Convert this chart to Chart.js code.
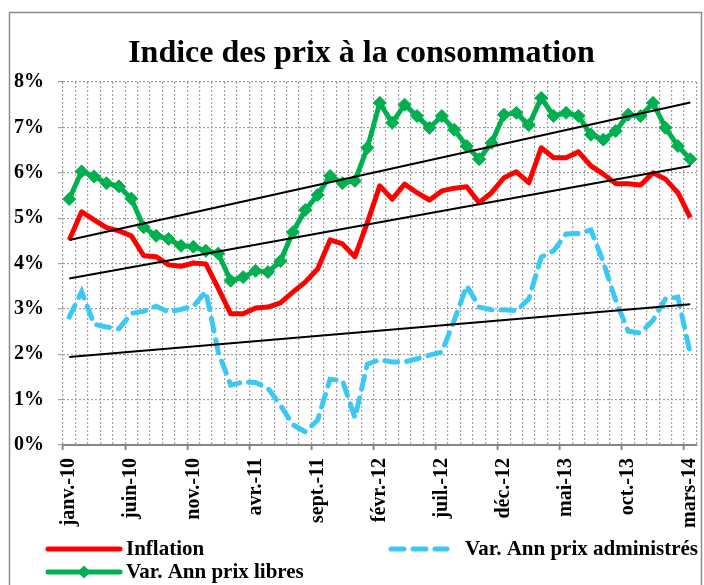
<!DOCTYPE html>
<html>
<head>
<meta charset="utf-8">
<script src="https://cdn.jsdelivr.net/npm/chart.js@4"></script>
<style>
  html, body { margin: 0; padding: 0; background: #fff; }
  canvas { display: block; }
</style>
</head>
<body>
<canvas id="chartCanvas" width="704" height="585"></canvas>
<script>
"use strict";

// janv.-10 .. mars-14, one value per month
const monthNames = ['janv.', 'févr.', 'mars', 'avr.', 'mai', 'juin', 'juil.', 'août', 'sept.', 'oct.', 'nov.', 'déc.'];
const years = ['10', '11', '12', '13', '14'];
const monthCount = 51;
const labelStep = 5;

const chartTitle = 'Indice des prix à la consommation';

const inflation = [
    4.52, 5.14, 4.96, 4.79, 4.72, 4.61, 4.17, 4.15, 3.97, 3.94, 4.01, 3.99,
    3.45, 2.89, 2.89, 3.02, 3.04, 3.13, 3.37, 3.59, 3.88, 4.52, 4.43, 4.15,
    4.90, 5.71, 5.42, 5.75, 5.56, 5.40, 5.60, 5.66, 5.69, 5.34, 5.56, 5.89,
    6.02, 5.78, 6.55, 6.33, 6.33, 6.46, 6.15, 5.97, 5.76, 5.76, 5.73, 6.00,
    5.86, 5.56, 5.01
];
const prixAdministres = [
    2.82, 3.38, 2.66, 2.60, 2.56, 2.90, 2.95, 3.06, 2.93, 2.99, 3.06, 3.38,
    2.05, 1.32, 1.39, 1.38, 1.25, 0.88, 0.45, 0.29, 0.55, 1.45, 1.42, 0.60,
    1.78, 1.88, 1.83, 1.83, 1.90, 1.98, 2.05, 2.75, 3.51, 3.04, 2.98, 2.98,
    2.96, 3.22, 4.14, 4.28, 4.65, 4.66, 4.74, 4.03, 3.18, 2.51, 2.47, 2.75,
    3.22, 3.26, 2.01
];
const prixLibres = [
    5.42, 6.03, 5.92, 5.77, 5.70, 5.43, 4.80, 4.61, 4.54, 4.39, 4.37, 4.28,
    4.22, 3.62, 3.70, 3.84, 3.81, 4.05, 4.69, 5.18, 5.51, 5.93, 5.77, 5.82,
    6.55, 7.54, 7.10, 7.50, 7.25, 6.99, 7.25, 6.95, 6.59, 6.30, 6.66, 7.28,
    7.32, 7.05, 7.65, 7.25, 7.32, 7.25, 6.84, 6.73, 6.92, 7.28, 7.25, 7.54,
    6.99, 6.59, 6.30
];

// linear trend lines: value at first and last month
const trendInflation = [3.67, 6.15];
const trendAdministres = [1.94, 3.10];
const trendLibres = [4.52, 7.55];

const yMin = 0;
const yMax = 8;
const yStep = 1;

const labels = [];
for (let i = 0; i < monthCount; i++) {
    labels.push(monthNames[i % 12] + '-' + years[Math.floor(i / 12)]);
}

function trendData(ends) {
    return labels.map((_, i) => i === 0 ? ends[0] : (i === labels.length - 1 ? ends[1] : null));
}

const serif = "'Liberation Serif', 'Times New Roman', serif";
Chart.defaults.font.family = serif;
Chart.defaults.font.weight = 'bold';
Chart.defaults.font.size = 20;
Chart.defaults.color = '#000';

const trendStyle = {
    borderColor: '#000',
    borderWidth: 2,
    pointRadius: 0,
    spanGaps: true,
    order: 0
};

// frame, title and a two-column legend placed like the original
const frameAndLegend = {
    id: 'frameAndLegend',
    beforeDraw(chart) {
        const c = chart.ctx;
        c.save();
        c.strokeStyle = '#8a8a8a';
        c.lineWidth = 1.5;
        c.strokeRect(9.5, 12.5, 692, 600);
        c.fillStyle = '#000';
        c.font = 'bold 32px ' + serif;
        c.textAlign = 'center';
        c.textBaseline = 'alphabetic';
        c.fillText(chartTitle, 361.5, 62);
        c.restore();
    },
    afterDraw(chart) {
        const c = chart.ctx;
        const sets = chart.data.datasets;
        const items = [
            { ds: sets[0], x0: 48, x1: 120, tx: 126, y: 549 },
            { ds: sets[1], x0: 391, x1: 447, tx: 465, y: 549 },
            { ds: sets[2], x0: 48, x1: 120, tx: 126, y: 572 }
        ];
        c.save();
        items.forEach((it) => {
            c.beginPath();
            c.strokeStyle = it.ds.borderColor;
            c.lineWidth = 5;
            c.lineCap = 'round';
            c.setLineDash(it.ds.borderDash || []);
            c.moveTo(it.x0, it.y);
            c.lineTo(it.x1, it.y);
            c.stroke();
            c.setLineDash([]);
            if (it.ds.pointStyle === 'rectRot') {
                const mx = (it.x0 + it.x1) / 2, r = 6.5;
                c.beginPath();
                c.fillStyle = it.ds.borderColor;
                c.moveTo(mx - r, it.y);
                c.lineTo(mx, it.y - r);
                c.lineTo(mx + r, it.y);
                c.lineTo(mx, it.y + r);
                c.closePath();
                c.fill();
            }
            c.fillStyle = '#000';
            c.font = 'bold 21px ' + serif;
            c.textBaseline = 'middle';
            c.textAlign = 'left';
            c.fillText(it.ds.label, it.tx, it.y + 1);
        });
        c.restore();
    }
};

const ctx = document.getElementById('chartCanvas').getContext('2d');
const plot = new Chart(ctx, {
    type: 'line',
    data: {
        labels: labels,
        datasets: [
            {
                label: 'Inflation',
                data: inflation,
                borderColor: '#ff0000',
                borderWidth: 5,
                borderJoinStyle: 'round',
                pointRadius: 0,
                order: 2
            },
            {
                label: 'Var. Ann prix administrés',
                data: prixAdministres,
                borderColor: '#3cc8f4',
                borderWidth: 5,
                borderDash: [13, 9],
                borderCapStyle: 'round',
                pointRadius: 0,
                order: 3
            },
            {
                label: 'Var. Ann prix libres',
                data: prixLibres,
                borderColor: '#00b050',
                backgroundColor: '#00b050',
                borderWidth: 5,
                pointStyle: 'rectRot',
                pointRadius: 6.5,
                pointBorderWidth: 1,
                order: 1
            },
            Object.assign({ label: 'trend-inflation', data: trendData(trendInflation) }, trendStyle),
            Object.assign({ label: 'trend-administres', data: trendData(trendAdministres) }, trendStyle),
            Object.assign({ label: 'trend-libres', data: trendData(trendLibres) }, trendStyle)
        ]
    },
    options: {
        responsive: false,
        animation: false,
        layout: { padding: { top: 82, left: 10, right: 7, bottom: 57 } },
        plugins: {
            legend: { display: false },
            tooltip: { enabled: false },
            title: { display: false }
        },
        scales: {
            x: {
                offset: true,
                grid: {
                    offset: true,
                    color: '#a0a0a0',
                    lineWidth: 1.2,
                    tickLength: 5,
                    tickWidth: 2,
                    tickColor: (c) => (c.index % labelStep === 0 ? '#868686' : 'rgba(0,0,0,0)'),
                    tickBorderDash: []
                },
                border: { display: true, color: '#868686', width: 2, dash: [2, 2] },
                ticks: {
                    autoSkip: false,
                    minRotation: 90,
                    maxRotation: 90,
                    padding: 8,
                    font: { size: 20, weight: 'bold' },
                    callback: (v, i) => (i % labelStep === 0 ? labels[i] : '')
                },
                afterFit: (scale) => {
                    scale.paddingLeft = 0;
                    scale.paddingRight = 0;
                    scale.height = 83;
                }
            },
            y: {
                min: yMin,
                max: yMax,
                grid: {
                    color: '#a0a0a0',
                    lineWidth: 1.2,
                    tickLength: 5
                },
                border: { display: false, dash: [2, 2] },
                ticks: {
                    stepSize: yStep,
                    padding: 14,
                    font: { size: 20, weight: 'bold' },
                    callback: (v) => v + '%'
                },
                afterFit: (scale) => {
                    scale.width = 53;
                }
            }
        }
    },
    plugins: [frameAndLegend]
});
</script>
</body>
</html>
